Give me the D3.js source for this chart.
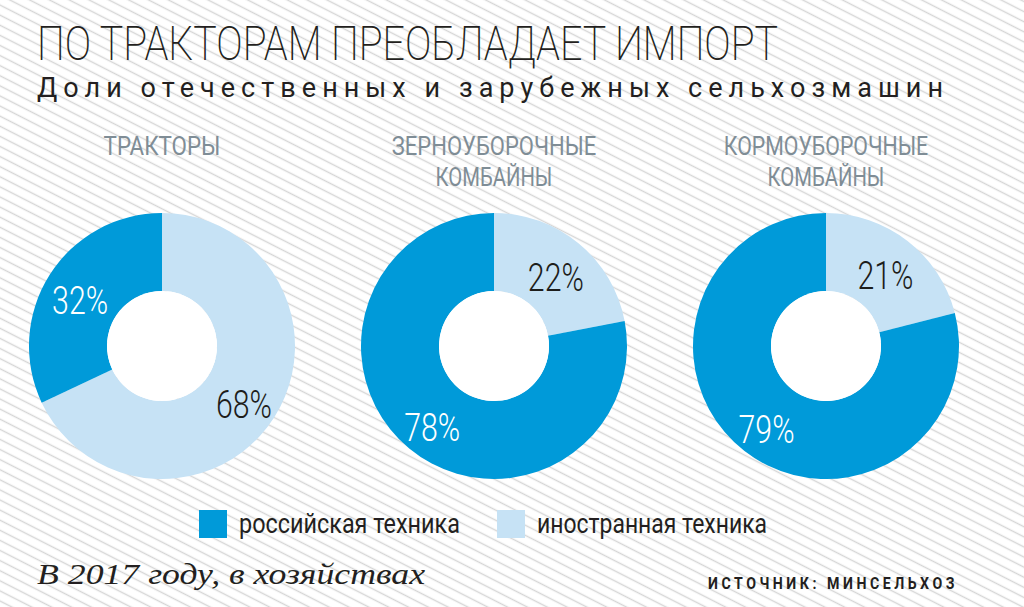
<!DOCTYPE html>
<html><head><meta charset="utf-8">
<script src="https://cdn.jsdelivr.net/npm/d3@7"></script>
<style>html,body{margin:0;padding:0;background:#fff;}svg{display:block;}</style>
</head><body>
<script>
const categories = ["ТРАКТОРЫ", "ЗЕРНОУБОРОЧНЫЕ\nКОМБАЙНЫ", "КОРМОУБОРОЧНЫЕ\nКОМБАЙНЫ"];
const seriesNames = ["иностранная техника", "российская техника"];
const foreignShare = [68, 22, 21];
const russianShare = [32, 78, 79];
const title = "ПО ТРАКТОРАМ ПРЕОБЛАДАЕТ ИМПОРТ";
const subtitle = "Доли отечественных и зарубежных сельхозмашин";
const note = "В 2017 году, в хозяйствах";
const source = "ИСТОЧНИК: МИНСЕЛЬХОЗ";

const W = 1024, H = 607;
const svg = d3.select("body").append("svg").attr("width", W).attr("height", H);

const defs = svg.append("defs");
const pat = defs.append("pattern").attr("id", "stripes")
  .attr("patternUnits", "userSpaceOnUse").attr("width", 20).attr("height", 9)
  .attr("patternTransform", "rotate(27)");
pat.append("rect").attr("width", 20).attr("height", 9).attr("fill", "#fff");
pat.append("line").attr("x1", 0).attr("x2", 20).attr("y1", 4.5).attr("y2", 4.5)
  .attr("stroke", "#d6d6d6").attr("stroke-width", 1.4);
svg.append("rect").attr("width", W).attr("height", H).attr("fill", "url(#stripes)");

function fit(sel, width, mode) {
  sel.attr("textLength", width).attr("lengthAdjust", mode || "spacingAndGlyphs");
}

// Title
svg.append("text").attr("x", 37).attr("y", 60)
  .attr("font-family", "Roboto").attr("font-weight", 200).attr("font-size", 49)
  .attr("fill", "#231f20").text(title).call(fit, 741);
svg.append("text").attr("x", 37).attr("y", 97)
  .attr("font-family", "Roboto").attr("font-weight", 400).attr("font-size", 27)
  .attr("fill", "#231f20").text(subtitle).call(fit, 906, "spacing");

const colorScale = d3.scaleOrdinal().domain(seriesNames).range(["#c6e2f5", "#009ad9"]);
const textColor = d3.scaleOrdinal().domain(seriesNames).range(["#1d1d1b", "#ffffff"]);

const xScale = d3.scalePoint().domain(categories).range([162, 826]);
const cy = 346, R = 133, r = 55;
const pie = d3.pie().sort(null).value(d => d.value);
const arc = d3.arc().innerRadius(r).outerRadius(R);
const labelArc = d3.arc().innerRadius(97).outerRadius(97);

categories.forEach((cat, i) => {
  const g = svg.append("g").attr("transform", `translate(${xScale(cat)},${cy})`);
  const data = [
    {name: seriesNames[0], value: foreignShare[i]},
    {name: seriesNames[1], value: russianShare[i]}
  ];
  const arcs = pie(data);
  g.selectAll("path").data(arcs).join("path")
    .attr("d", arc).attr("fill", d => colorScale(d.data.name));
  g.append("circle").attr("r", r).attr("fill", "#fff");
  g.selectAll("text.pct").data(arcs).join("text").attr("class", "pct")
    .each(function(d) {
      const c = labelArc.centroid(d);
      d3.select(this).attr("x", c[0]).attr("y", c[1] + 20);
    })
    .attr("text-anchor", "middle")
    .attr("font-family", "Roboto").attr("font-weight", 300).attr("font-size", 39)
    .attr("fill", d => textColor(d.data.name))
    .text(d => d.data.value + "%").call(fit, 56);

  const lines = cat.split("\n");
  lines.forEach((ln, j) => {
    svg.append("text").attr("x", xScale(cat)).attr("y", 155 + j * 31)
      .attr("text-anchor", "middle")
      .attr("font-family", "Roboto").attr("font-weight", 400).attr("font-size", 26)
      .attr("fill", "#7f8d96").text(ln).call(fit, ln.length * 14.6);
  });
});

// Legend
const legend = [
  {name: seriesNames[1], x: 199, w: 221},
  {name: seriesNames[0], x: 497, w: 230}
];
legend.forEach(l => {
  svg.append("rect").attr("x", l.x).attr("y", 510).attr("width", 28).attr("height", 28)
    .attr("fill", colorScale(l.name));
  svg.append("text").attr("x", l.x + 40).attr("y", 533)
    .attr("font-family", "Roboto").attr("font-weight", 400).attr("font-size", 27)
    .attr("fill", "#231f20").text(l.name).call(fit, l.w);
});

svg.append("text").attr("x", 37).attr("y", 584)
  .attr("font-family", "Liberation Serif").attr("font-style", "italic").attr("font-size", 29)
  .attr("fill", "#231f20").text(note).call(fit, 388);
svg.append("text").attr("x", 708).attr("y", 589)
  .attr("font-family", "Roboto").attr("font-weight", 700).attr("font-size", 16)
  .attr("letter-spacing", 4)
  .attr("fill", "#231f20").text(source).call(fit, 250);
</script>
</body></html>
